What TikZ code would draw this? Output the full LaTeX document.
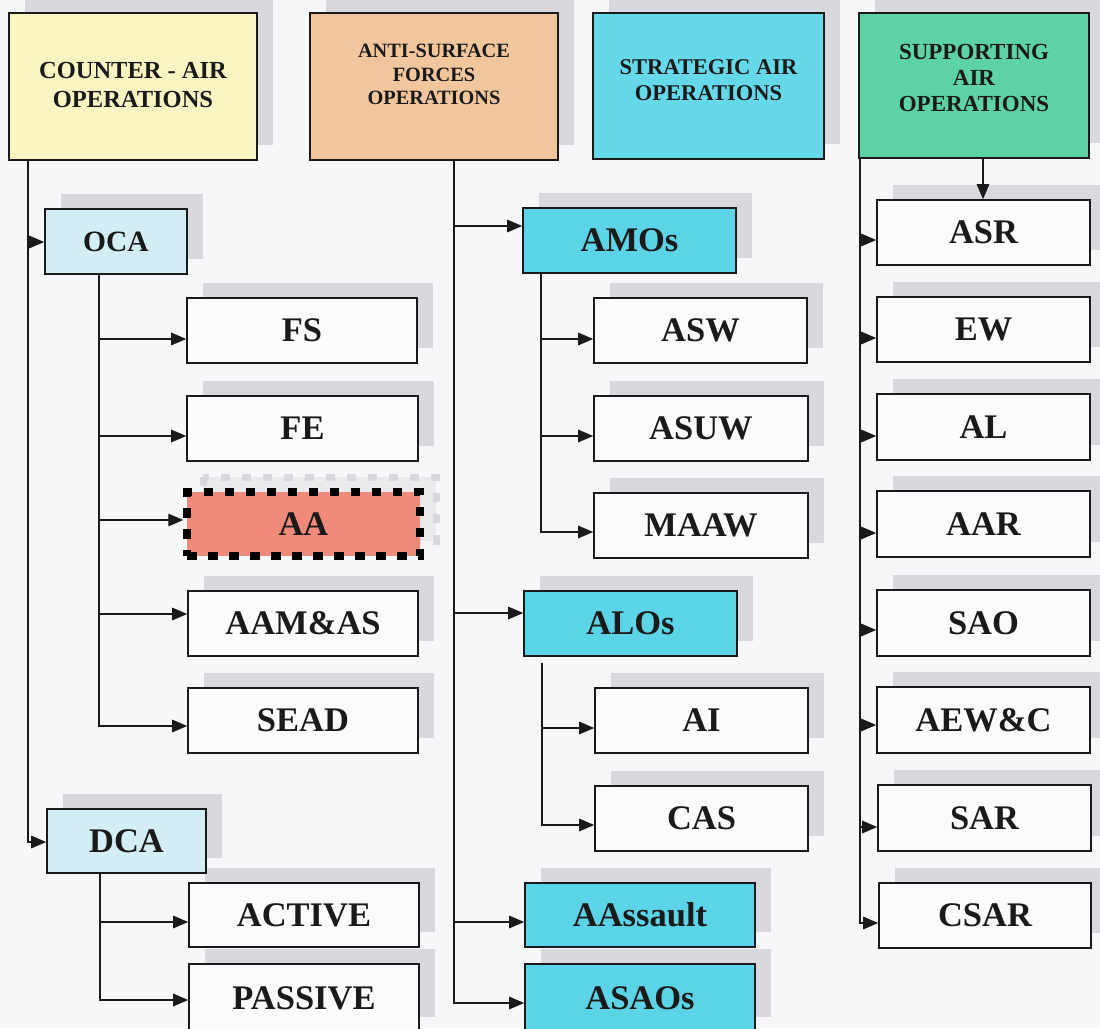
\documentclass[tikz,border=0pt]{standalone}
\usepackage{fontspec}
\setmainfont{Liberation Serif}
\usetikzlibrary{arrows.meta}
\pgfdeclarelayer{shadow}
\pgfsetlayers{shadow,main}

\definecolor{pagebg}{HTML}{F6F7F9}
\definecolor{boxfill}{HTML}{FAFBFC}
\definecolor{boxline}{HTML}{1A1A1A}
\definecolor{shadowcol}{HTML}{D9D8DF}
\definecolor{hdyellow}{HTML}{F8F5C2}
\definecolor{hdorange}{HTML}{F2C69C}
\definecolor{hdcyan}{HTML}{65D8EA}
\definecolor{hdgreen}{HTML}{5DD2A5}
\definecolor{opcyan}{HTML}{5CD4E8}
\definecolor{oplblue}{HTML}{D4EEF6}
\definecolor{opred}{HTML}{F08A7A}

\newcommand\kidfont{\fontsize{34.5}{40}\selectfont\bfseries}
\newcommand\ocafont{\fontsize{29.5}{34}\selectfont\bfseries}

% box with its offset drop shadow: name, x1, y1, x2, y2, style, text
\newcommand\opbox[7]{%
  \begin{pgfonlayer}{shadow}
    \fill[shadowcol] (#2+16,#3-15) rectangle (#4+16,#5-15);
  \end{pgfonlayer}
  \node[#6, minimum width={(#4-#2)*1pt}, minimum height={(#5-#3)*1pt}]
    (#1) at ({(#2+#4)/2},{(#3+#5)/2}) {#7};
}

\begin{document}
\begin{tikzpicture}[x=1pt,y=-1pt,
  box/.style={draw=boxline, line width=1.6pt, fill=boxfill, inner sep=0pt,
              font=\kidfont, text=boxline},
  head/.style={box, line width=1.8pt},
  headtext/.style={align=center, inner sep=0pt, text=boxline},
  conn/.style={draw=boxline, line width=1.4pt,
               -{Triangle[length=15pt,width=12.5pt]}}]

\useasboundingbox (0,0) rectangle (1100,1028);
\begin{pgfonlayer}{shadow}
  \fill[pagebg] (0,0) rectangle (1100,1028);
\end{pgfonlayer}

% ---- column headers ----
\opbox{ca}{9}{13}{257}{160}{head,fill=hdyellow}{}
\opbox{as}{310}{13}{558}{160}{head,fill=hdorange}{}
\opbox{sa}{593}{13}{824}{159}{head,fill=hdcyan}{}
\opbox{su}{859}{13}{1089}{158}{head,fill=hdgreen}{}

\node[headtext, font={\fontsize{24.5}{29}\selectfont\bfseries}] (ca-t) at (133,85.5)
  {COUNTER - AIR\\OPERATIONS};
\node[headtext, font={\fontsize{20.3}{23.3}\selectfont\bfseries}] (as-t) at (434,74.5)
  {ANTI-SURFACE\\FORCES\\OPERATIONS};
\node[headtext, font={\fontsize{22.5}{26}\selectfont\bfseries}] (sa-t) at (708.5,80.5)
  {STRATEGIC AIR\\OPERATIONS};
\node[headtext, font={\fontsize{23}{26}\selectfont\bfseries}] (su-t) at (974,77.5)
  {SUPPORTING\\AIR\\OPERATIONS};

% ---- counter-air branch ----
\opbox{oca}{45}{209}{187}{274}{box,fill=oplblue,font=\ocafont}{OCA}
\opbox{fs}{187}{298}{417}{363}{box}{FS}
\opbox{fe}{187}{396}{418}{461}{box}{FE}
\begin{pgfonlayer}{shadow}
  \fill[shadowcol!55] (203,477) rectangle (436,541);
  \draw[shadowcol, line width=7pt, dash pattern=on 9pt off 12pt] (203,477) rectangle (436,541);
\end{pgfonlayer}
\node[box, fill=opred, draw=black, line width=7.5pt, dash pattern=on 9.5pt off 11.5pt,
      minimum width=233pt, minimum height=64pt] (aa) at (303.5,524) {AA};
\opbox{aam}{188}{591}{418}{656}{box}{AAM\&AS}
\opbox{sead}{188}{688}{418}{753}{box}{SEAD}
\opbox{dca}{47}{809}{206}{873}{box,fill=oplblue}{DCA}
\opbox{active}{189}{883}{419}{947}{box}{ACTIVE}
\opbox{passive}{189}{964}{419}{1032}{box}{PASSIVE}

% ---- anti-surface branch ----
\opbox{amos}{523}{208}{736}{273}{box,fill=opcyan}{AMOs}
\opbox{asw}{594}{298}{807}{363}{box}{ASW}
\opbox{asuw}{594}{396}{808}{461}{box}{ASUW}
\opbox{maaw}{594}{493}{808}{558}{box}{MAAW}
\opbox{alos}{524}{591}{737}{656}{box,fill=opcyan}{ALOs}
\opbox{ai}{595}{688}{808}{753}{box}{AI}
\opbox{cas}{595}{786}{808}{851}{box}{CAS}
\opbox{aas}{525}{883}{755}{947}{box,fill=opcyan}{AAssault}
\opbox{asaos}{525}{964}{755}{1032}{box,fill=opcyan}{ASAOs}

% ---- supporting branch ----
\opbox{asr}{877}{200}{1090}{265}{box}{ASR}
\opbox{ew}{877}{297}{1090}{362}{box}{EW}
\opbox{al}{877}{394}{1090}{460}{box}{AL}
\opbox{aar}{877}{491}{1090}{557}{box}{AAR}
\opbox{sao}{877}{590}{1090}{656}{box}{SAO}
\opbox{aewc}{877}{687}{1090}{753}{box}{AEW\&C}
\opbox{sar}{878}{785}{1091}{851}{box}{SAR}
\opbox{csar}{879}{883}{1091}{948}{box}{CSAR}

% ---- trunk lines ----
\coordinate (tl) at (28,0);
\coordinate (to) at (99,0);
\coordinate (td) at (100,0);
\coordinate (tm) at (454,0);
\coordinate (tam) at (541,0);
\coordinate (tal) at (542,663);
\coordinate (tr) at (860,0);
\coordinate (ts) at (983,0);

\draw[conn] (ca.south -| tl) |- (oca.west |- 0,242);
\draw[conn] (ca.south -| tl) |- (dca.west |- 0,842);

\draw[conn] (oca.south -| to) |- (fs.west |- 0,339);
\draw[conn] (oca.south -| to) |- (fe.west |- 0,436);
\draw[conn] (oca.south -| to) |- (aa.west |- 0,520);
\draw[conn] (oca.south -| to) |- (aam.west |- 0,614);
\draw[conn] (oca.south -| to) |- (sead.west |- 0,726);

\draw[conn] (dca.south -| td) |- (active.west |- 0,922);
\draw[conn] (dca.south -| td) |- (passive.west |- 0,1000);

\draw[conn] (as.south -| tm) |- (amos.west |- 0,226);
\draw[conn] (as.south -| tm) |- (alos.west |- 0,613);
\draw[conn] (as.south -| tm) |- (aas.west |- 0,922);
\draw[conn] (as.south -| tm) |- (asaos.west |- 0,1003);

\draw[conn] (amos.south -| tam) |- (asw.west |- 0,339);
\draw[conn] (amos.south -| tam) |- (asuw.west |- 0,436);
\draw[conn] (amos.south -| tam) |- (maaw.west |- 0,532);

\draw[conn] (tal) |- (ai.west |- 0,728);
\draw[conn] (tal) |- (cas.west |- 0,825);

\draw[conn] (su.south -| tr) |- (asr.west |- 0,240);
\draw[conn] (su.south -| tr) |- (ew.west |- 0,338);
\draw[conn] (su.south -| tr) |- (al.west |- 0,436);
\draw[conn] (su.south -| tr) |- (aar.west |- 0,533);
\draw[conn] (su.south -| tr) |- (sao.west |- 0,630);
\draw[conn] (su.south -| tr) |- (aewc.west |- 0,725);
\draw[conn] (su.south -| tr) |- (sar.west |- 0,827);
\draw[conn] (su.south -| tr) |- (csar.west |- 0,923);
\draw[conn] (su.south -| ts) -- (asr.north -| ts);

\end{tikzpicture}
\end{document}
